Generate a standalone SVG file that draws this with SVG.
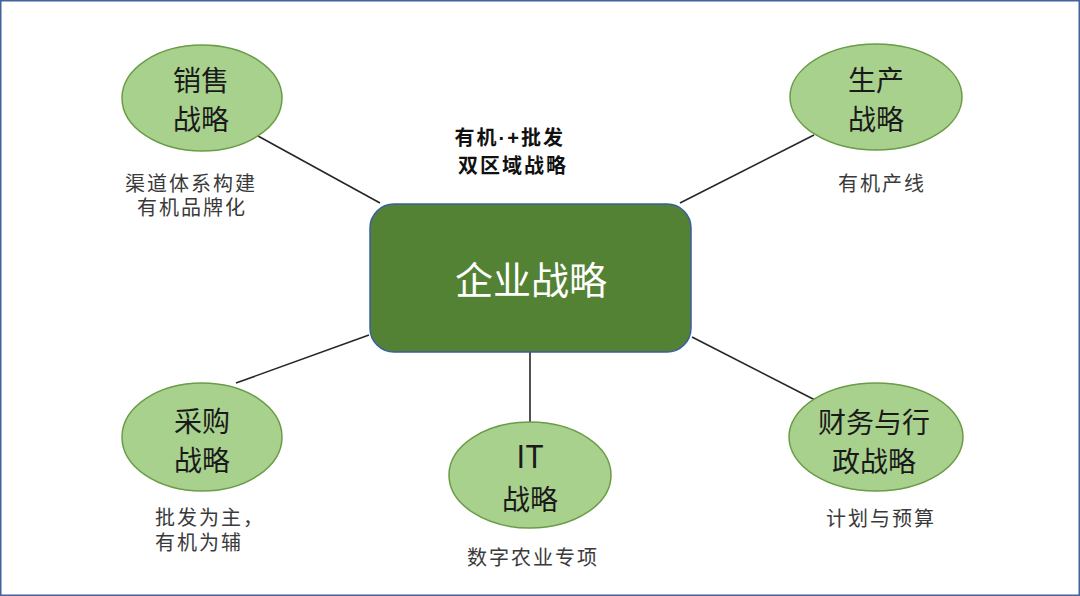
<svg xmlns="http://www.w3.org/2000/svg" width="1080" height="596" viewBox="0 0 1080 596">
<style>
.ell{fill:#A9D18E;stroke:#6A9C45;stroke-width:1.5}
.nt{font-family:"Noto Sans CJK SC","Noto Sans",sans-serif;font-size:28px;fill:#1a1a1a;text-anchor:middle}
.ds{font-family:"Noto Sans CJK SC","Noto Sans",sans-serif;font-size:20px;fill:#3a3a3a;letter-spacing:2px}
.cn{stroke:#262626;stroke-width:1.6;fill:none}
</style>
<rect x="0.75" y="0.75" width="1078.5" height="594.5" fill="#ffffff" stroke="#44609F" stroke-width="1.5"/>
<g id="connectors">
<line class="cn" x1="258" y1="136" x2="380" y2="203"/>
<line class="cn" x1="680" y1="203" x2="814" y2="135"/>
<line class="cn" x1="236" y1="383" x2="369" y2="335"/>
<line class="cn" x1="692" y1="337" x2="815" y2="400"/>
<line class="cn" x1="530" y1="352" x2="530" y2="422"/>
</g>
<g id="center">
<rect x="370" y="204" width="321" height="148" rx="24" ry="24" fill="#548235" stroke="#3B5EA0" stroke-width="1.5"/>
<text x="531" y="294" font-family="'Noto Sans CJK SC','Noto Sans',sans-serif" font-size="38" fill="#ffffff" text-anchor="middle">企业战略</text>
</g>
<g id="title">
<text font-family="'Noto Sans CJK SC','Noto Sans',sans-serif" font-size="20" font-weight="bold" fill="#111111" text-anchor="middle" letter-spacing="2">
<tspan x="513" y="145">有机<tspan font-family="'Liberation Sans',sans-serif">·+</tspan>批发</tspan>
<tspan x="513" y="173">双区域战略</tspan>
</text>
</g>
<g id="sales">
<ellipse class="ell" cx="202" cy="98" rx="80" ry="53"/>
<text class="nt"><tspan x="201" y="91">销售</tspan><tspan x="201" y="130">战略</tspan></text>
<text class="ds" text-anchor="middle"><tspan x="191" y="191">渠道体系构建</tspan><tspan x="192" y="215">有机品牌化</tspan></text>
</g>
<g id="production">
<ellipse class="ell" cx="876" cy="97" rx="86" ry="53"/>
<text class="nt"><tspan x="876" y="91">生产</tspan><tspan x="876" y="130">战略</tspan></text>
<text class="ds" text-anchor="middle" x="882" y="191">有机产线</text>
</g>
<g id="purchase">
<ellipse class="ell" cx="202" cy="437" rx="80" ry="54"/>
<text class="nt"><tspan x="202" y="432">采购</tspan><tspan x="202" y="471">战略</tspan></text>
<text class="ds"><tspan x="155" y="525">批发为主，</tspan><tspan x="155" y="550">有机为辅</tspan></text>
</g>
<g id="it">
<ellipse class="ell" cx="530" cy="475" rx="81" ry="53"/>
<text class="nt"><tspan x="530" y="468" font-size="31">IT</tspan><tspan x="530" y="510">战略</tspan></text>
<text class="ds" text-anchor="middle" x="533" y="565">数字农业专项</text>
</g>
<g id="finance">
<ellipse class="ell" cx="876" cy="437" rx="87" ry="54"/>
<text class="nt"><tspan x="874" y="433">财务与行</tspan><tspan x="874" y="472">政战略</tspan></text>
<text class="ds" text-anchor="middle" x="881" y="526">计划与预算</text>
</g>
</svg>
